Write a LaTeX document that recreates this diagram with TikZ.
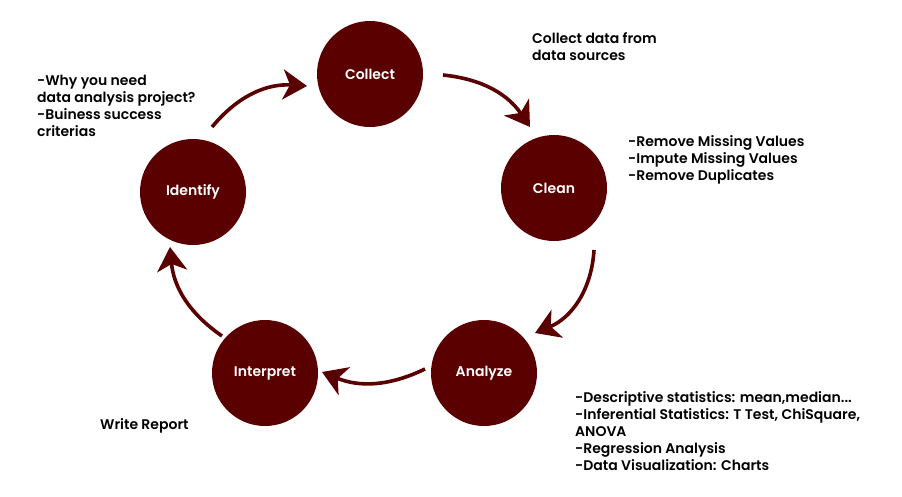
\documentclass[tikz,border=0pt]{standalone}
\usepackage{fontspec}
\setmainfont{Poppins}[UprightFont=* SemiBold, BoldFont=* Bold]
\usetikzlibrary{arrows.meta}
\definecolor{maroon}{HTML}{5A0000}
\begin{document}
\begin{tikzpicture}[x=1pt,y=-1pt,
  stage/.style={circle,fill=maroon,minimum size=106pt,inner sep=0pt,text=white,font=\fontsize{14}{16}\selectfont},
  note/.style={anchor=north west,align=left,inner sep=0pt,font=\fontsize{14}{17}\selectfont},
  flow/.style={draw=maroon,line width=3.6pt,-{Stealth[length=24pt,width=30pt,inset=7pt]}}]
\useasboundingbox (0,0) rectangle (902,496);
\node[stage] (collect) at (370,74) {Collect};
\node[stage] (clean) at (554,188) {Clean};
\node[stage] (analyze) at (484,373) {Analyze};
\node[stage] (interpret) at (265,373) {Interpret};
\node[stage] (identify) at (193,192) {Identify};
\coordinate (s1) at (212,127); \coordinate (e1) at (307,86);
\coordinate (s2) at (443,75);  \coordinate (e2) at (530,127);
\coordinate (s3) at (594,250); \coordinate (e3) at (535,333);
\coordinate (s4) at (425,369); \coordinate (e4) at (322,372);
\coordinate (s5) at (222,336); \coordinate (e5) at (170,247);
\draw[flow] (s1) to[bend left=27] (e1);
\draw[flow] (s2) to[bend left=25] (e2);
\draw[flow] (s3) to[bend left=32] (e3);
\draw[flow] (s4) to[bend left=24] (e4);
\draw[flow] (s5) to[bend left=25] (e5);
\node[note] (tcollect) at (532,32) {Collect data from\\data sources};
\node[note] (tidentify) at (37,75) {-Why you need\\data analysis project?\\-Buiness success\\criterias};
\node[note] (tclean) at (628,135) {-Remove Missing Values\\-Impute Missing Values\\-Remove Duplicates};
\node[note] (tanalyze) at (575,391) {-Descriptive statistics: mean,median...\\-Inferential Statistics: T Test, ChiSquare,\\ANOVA\\-Regression Analysis\\-Data Visualization: Charts};
\node[note] (treport) at (100,418) {Write Report};
\end{tikzpicture}
\end{document}
